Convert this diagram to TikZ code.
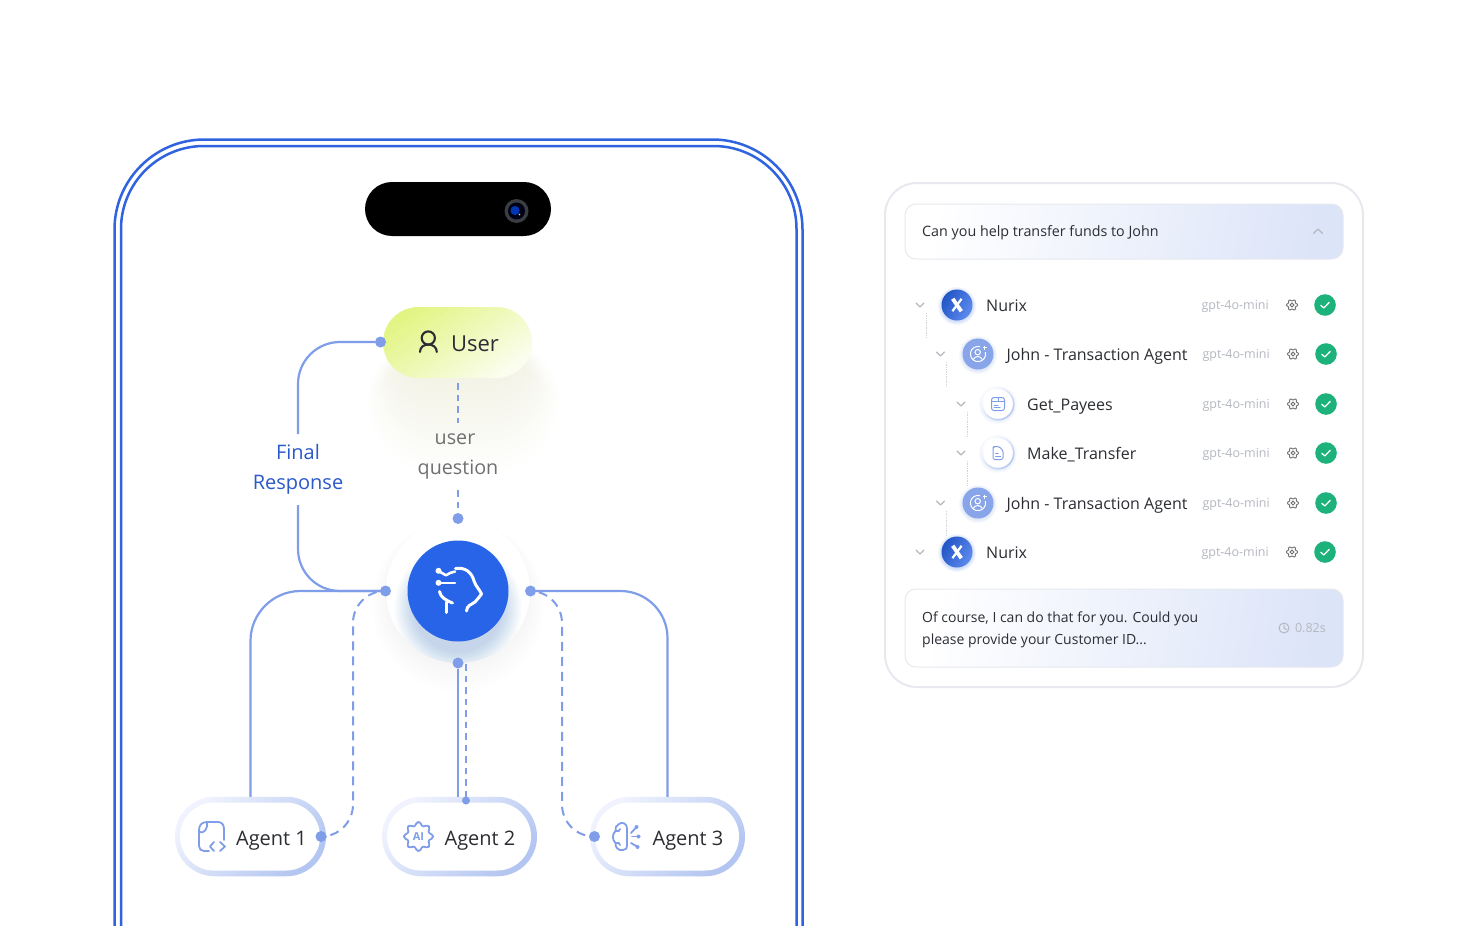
\documentclass[tikz,border=0pt]{standalone}
\usepackage{fontspec}
\setmainfont{Open Sans}
\usetikzlibrary{arrows.meta, calc}

\definecolor{framecol}{HTML}{2F63E0}
\definecolor{linecol}{HTML}{7F9DE8}
\definecolor{corecol}{HTML}{2864E8}
\definecolor{inkcol}{HTML}{2B2D33}
\definecolor{mutedcol}{HTML}{6F7073}
\definecolor{ringlight}{HTML}{F0F3FD}
\definecolor{ringdark}{HTML}{B3C5F1}
\definecolor{barcol}{HTML}{DCE4F8}
\definecolor{cardcol}{HTML}{E7E9EF}
\definecolor{softcol}{HTML}{B4B8C0}
\definecolor{okcol}{HTML}{1DB27B}
\definecolor{limecol}{HTML}{E2F584}
\definecolor{limepale}{HTML}{FBFDEF}
\definecolor{limeshade}{HTML}{D3E08A}
\definecolor{haloshade}{HTML}{AEB8D8}

\begin{document}
\begin{tikzpicture}[
    x=1pt, y=-1pt,
    frameline/.style={framecol, line width=2.5pt},
    link/.style={linecol, line width=2.2pt},
    dashlink/.style={linecol, line width=2pt, dash pattern=on 6.5pt off 5pt},
    dashlong/.style={linecol, line width=2pt, dash pattern=on 9pt off 6pt},
    dot/.style={circle, fill=linecol, minimum size=11pt, inner sep=0pt, outer sep=0pt},
    pillout/.style={rounded corners=39.5pt, minimum height=79.5pt, inner sep=0pt, outer sep=0pt,
        left color=ringlight, right color=ringdark, shading angle=45},
    pillin/.style={fill=white, rounded corners=34pt, minimum height=68pt, inner sep=0pt},
    agentlbl/.style={font=\fontsize{20}{24}\selectfont, text=inkcol, inner sep=0pt, anchor=base},
    edgelbl/.style={font=\fontsize{19.7}{30}\selectfont, align=center, inner sep=0pt, outer sep=0pt},
    iconline/.style={linecol, line width=1.8pt, line cap=round, line join=round},
    rowlbl/.style={font=\fontsize{16}{18}\selectfont, text=inkcol, inner sep=0pt, anchor=base west},
    modellbl/.style={font=\fontsize{12.5}{14}\selectfont, text=softcol, inner sep=0pt, anchor=base east},
    chatlbl/.style={font=\fontsize{14.3}{22}\selectfont, text=inkcol, inner sep=0pt, anchor=west, align=left},
    chev/.style={softcol, line width=1.1pt, line cap=round, line join=round},
    bar/.style={draw=cardcol, line width=1pt, rounded corners=11pt, inner sep=0pt,
        left color=white, right color=barcol, shading angle=80},
    cog/.pic={
        \draw[mutedcol, line width=.9pt] plot[smooth cycle, domain=0:350, samples=36, variable=\t]
            ({(4.8+.8*cos(6*\t))*cos(\t)}, {(4.8+.8*cos(6*\t))*sin(\t)});
        \draw[mutedcol, line width=.9pt] (0,0) circle (1.9pt);
    },
    okmark/.pic={
        \fill[okcol] (0,0) circle (10.8pt);
        \draw[white, line width=1.3pt, line cap=round, line join=round] (-4.2,.3) -- (-1.2,3) -- (4.2,-2.6);
    },
    logomark/.pic={
        \foreach \g in {0,1,...,4} { \fill[corecol, opacity=.05] (0,1) circle ({15+\g}); }
        \shade[left color=corecol!85!black, right color=corecol!75!white, shading angle=60] (0,0) circle (15.5pt);
        \draw[white, line width=3.8pt] (-4.3,-6.2) -- (4.3,6.2);
        \draw[white, line width=2.2pt] (4.6,-6.2) -- (-4.6,6.2);
    },
    personmark/.pic={
        \foreach \g in {0,1,...,4} { \fill[linecol, opacity=.06] (0,1) circle ({15+\g}); }
        \fill[linecol!92!white] (0,0) circle (15.5pt);
        \draw[white, line width=1pt] (0,0) ++(75:7.6pt) arc[start angle=75, end angle=375, radius=7.6pt];
        \draw[white, line width=1pt] (-.3,-1.8) circle (2.7pt);
        \draw[white, line width=1pt] (-4.6,5.4) .. controls (-3.5,1.6) and (3,1.6) .. (4.2,5.4);
        \draw[white, line width=.9pt] (6.5,-8.5) -- (6.5,-4.5) (4.5,-6.5) -- (8.5,-6.5);
    },
    toolmark/.pic={
        \foreach \g in {0,1,...,4} { \fill[ringdark, opacity=.07] (0,1) circle ({15+\g}); }
        \shade[left color=white, right color=ringdark, shading angle=45] (0,0) circle (16.5pt);
        \fill[white] (0,0) circle (14.8pt);
    },
]
\useasboundingbox (0,0) rectangle (1476,926);
\fill[white] (0,0) rectangle (1476,926);

% =============================================================================
% Phone outline
% =============================================================================
\draw[frameline, rounded corners=90pt] (114.5,926) -- (114.5,139.5) -- (802.5,139.5) -- (802.5,926);
\draw[frameline, rounded corners=83pt] (121,926) -- (121,146) -- (796.5,146) -- (796.5,926);

% --- Camera cutout ---
\node[fill=black, rounded corners=27pt, minimum width=186pt, minimum height=54pt, inner sep=0pt] (notch) at (458,209) {};
\fill[black!85!cyan] (516.5,211) circle (12pt);
\fill[black!92!blue] (516.5,211) circle (8.5pt);
\fill[blue!70!cyan!70!black] (515,210.5) circle (4.6pt);
\fill[white!70!gray] (519.5,214.5) circle (.9pt);

% =============================================================================
% User block and core
% =============================================================================

% --- Soft shadows ---
\foreach \g in {0,4,...,44} {
    \fill[limeshade, opacity=.012, rounded corners={36+.9*\g}]
        ({398-.7*\g}, {345-.3*\g}) rectangle ({524+.8*\g}, {385+2*\g});
}
\foreach \g in {0,2,...,16} {
    \fill[haloshade, opacity=.012] (458,{596+.6*\g}) circle ({70+\g});
}

% --- User ---
\node[rounded corners=35.5pt, minimum width=149pt, minimum height=71pt, inner sep=0pt, outer sep=0pt,
    left color=limecol, right color=limepale, shading angle=35] (user) at (457.5,342.5) {};
\node[agentlbl, font=\fontsize{22}{26}\selectfont] (userlbl) at (475,351) {User};
\draw[inkcol, line width=2.1pt] (428.3,338) circle (6.6pt);
\draw[inkcol, line width=2.1pt, line cap=round] (420,352) .. controls (420,347) and (424,344.5) .. (428.3,344.5)
    .. controls (432.6,344.5) and (436.8,347) .. (436.8,352);

% --- Core ---
\begin{scope}
    \fill[white] (458,591) circle (72pt);
    \clip (458,591) circle (72pt);
    \foreach \g in {0,1,...,20} {
        \fill[corecol, opacity=.012] (458,608) circle ({44+\g});
    }
\end{scope}
\node[circle, fill=corecol, minimum size=101pt, inner sep=0pt, outer sep=0pt] (core) at (458,591) {};
\draw[white, line width=3pt, line cap=round, line join=round]
    (455.5,568.5) .. controls (466,567) and (472,573) .. (474,581) .. controls (475.5,586) and (480,590) .. (481.5,594)
    .. controls (480,597) and (477,599) .. (475,602) .. controls (471,605) and (467,605) .. (466.5,611);
\draw[white, line width=3pt, line cap=round, line join=round]
    (439.5,591.5) .. controls (440,597) and (447,601) .. (452.5,603);
\draw[white, line width=3pt, line cap=round] (446.7,602) -- (446.7,612.5);
\draw[white, line width=2.6pt, line cap=round, line join=round] (438.5,571) -- (446,575.3) -- (450,573) -- (455,571.5);
\draw[white, line width=2.6pt, line cap=round] (438.5,582.8) -- (455,582.8);
\fill[white] (438.5,570.8) circle (3pt) (438.5,582.8) circle (3pt);

% =============================================================================
% Agents
% =============================================================================
\node[pillout, minimum width=151pt] (agentone) at (250.5,836.5) {};
\node[pillin, minimum width=140pt] (agentoneinner) at (250,836.5) {};
\node[agentlbl] (agentonelbl) at (271.5,845) {Agent 1};

\node[pillout, minimum width=155pt] (agenttwo) at (459.5,836.5) {};
\node[pillin, minimum width=144pt] (agenttwoinner) at (459,836.5) {};
\node[agentlbl] (agenttwolbl) at (480,845) {Agent 2};

\node[pillout, minimum width=155pt] (agentthree) at (667.5,836.5) {};
\node[pillin, minimum width=144pt] (agentthreeinner) at (667,836.5) {};
\node[agentlbl] (agentthreelbl) at (688,845) {Agent 3};

% --- Agent 1 icon ---
\draw[iconline] (209,851) -- (204,851) .. controls (201,851) and (199,849) .. (199,846) -- (199,830)
    .. controls (199,825) and (202,822) .. (207,822) -- (218,822) .. controls (222,822) and (224,825) .. (224,829) -- (224,840);
\draw[iconline] (199,832) .. controls (204,834) and (208,829) .. (207,822);
\draw[iconline] (214,842) -- (210,846.5) -- (214,851);
\draw[iconline] (220,842) -- (225,846.5) -- (220,851);

% --- Agent 2 icon ---
\draw[iconline] plot[smooth cycle, domain=0:351, samples=40, variable=\t]
    ({418.5+(12.8+1.8*cos(8*\t))*cos(\t)}, {836.5+(12.8+1.8*cos(8*\t))*sin(\t)});
\node[font=\fontsize{11}{12}\selectfont\bfseries, text=linecol, inner sep=0pt] (agenttwomark) at (418.5,836.5) {AI};

% --- Agent 3 icon ---
\draw[iconline] (627,828) .. controls (627,824) and (622,821) .. (619,824) .. controls (616,825) and (615,828) .. (615.5,831)
    .. controls (612,834) and (612,840) .. (615.5,843) .. controls (615,848) and (619,851) .. (623,850)
    .. controls (626,850) and (627,848) .. (627,846) -- cycle;
\draw[iconline] (615.5,831) .. controls (618,832) and (620,831) .. (620,829);
\draw[iconline] (615.5,843) .. controls (618,842) and (620,843) .. (620,845);
\draw[iconline] (631,833) -- (636,827.5);
\draw[iconline] (632,836.5) -- (638,836.5);
\draw[iconline] (631,843) -- (637,846.5);
\fill[linecol] (636.5,827) circle (2pt) (638.5,836.5) circle (2pt) (637.5,847) circle (2pt);

% =============================================================================
% Connectors
% =============================================================================
\node[dot] (userdot) at (380.5,342) {};
\node[dot] (coretop) at (458,518.5) {};
\node[dot] (coreleft) at (385.5,591) {};
\node[dot] (coreright) at (530.5,591) {};
\node[dot] (corebottom) at (458,663) {};
\node[dot] (agentonedot) at (321,836.5) {};
\node[dot, minimum size=8pt] (agenttwodot) at (466,800.5) {};
\node[dot] (agentthreedot) at (594.5,836.5) {};
\coordinate (coredash) at (466,664);

\node[edgelbl, text=framecol!90!black, minimum height=77pt, font=\fontsize{20}{30}\selectfont] (finallbl) at (298,469.5) {Final\\Response};
\node[edgelbl, text=mutedcol, minimum height=76pt] (questionlbl) at (458,456.5) {user\hspace*{6pt}\\question};

\draw[link, rounded corners=42pt, shorten >=-3pt] (userdot) -| (finallbl.north);
\draw[link, rounded corners=42pt, shorten <=-3pt] (finallbl.south) |- (coreleft);
\draw[link, rounded corners=50pt] (agentone.north) |- (coreleft);
\draw[link, rounded corners=47pt] (agentthree.north) |- (coreright);
\draw[link] (corebottom) -- (corebottom |- agenttwo.north);

\coordinate (userfoot) at (458,383);
\draw[dashlink, shorten >=-4.5pt] (userfoot) -- (questionlbl.north);
\draw[dashlink, shorten <=-4.5pt] (questionlbl.south) -- (coretop);
\draw[dashlink] (coredash) -- (agenttwodot);
\draw[dashlong, rounded corners=32pt] (agentonedot) -| (353,591) -- (coreleft);
\draw[dashlong, rounded corners=32pt] (coreright) -| (562,836.5) -- (agentthreedot);

% =============================================================================
% Trace card
% =============================================================================
\draw[cardcol, line width=2pt, fill=white, rounded corners=32pt] (885,183) rectangle (1363,687);

% --- Question bar ---
\node[bar, minimum width=438pt, minimum height=55pt] (askbar) at (1124,231.5) {};
\node[chatlbl, anchor=base west] (asklbl) at (922,236) {Can you help transfer funds to John};
\draw[chev] (1313.5,233.5) -- (1318,229) -- (1322.5,233.5);

% --- Tree rows ---
\foreach \i/\y/\lev/\dx/\title in {1/305/0/0/Nurix, 2/354/1/1/John - Transaction Agent, 3/404/2/1/Get\_Payees,
        4/453/2/1/Make\_Transfer, 5/503/1/1/John - Transaction Agent, 6/552/0/0/Nurix} {
    \begin{scope}[shift={(0,\y)}]
        \begin{scope}[shift={({20.5*\lev},0)}]
            \draw[chev] (916,-2) -- (920,2) -- (924,-2);
            \node[rowlbl] (rowlbl\i) at (986,6) {\title};
        \end{scope}
        \node[modellbl] (model\i) at ({1269+\dx},4.3) {gpt-4o-mini};
        \pic at ({1292+\dx},0) {cog};
        \pic at ({1325+\dx},0) {okmark};
    \end{scope}
}

% --- Tree guides ---
\foreach \gx/\gy in {926/313, 946.5/362, 967/412, 967/461, 946.5/511} {
    \draw[softcol!60, line width=.7pt, densely dotted] (\gx,\gy) -- (\gx,{\gy+25});
}

% --- Row icons ---
\pic at (957,305) {logomark};
\pic at (978,354) {personmark};
\pic at (998,404) {toolmark};
\pic at (998,453) {toolmark};
\pic at (978,503) {personmark};
\pic at (957,552) {logomark};

\draw[linecol, line width=1pt, rounded corners=2.5pt] (991.5,397.5) rectangle (1004.5,410.5);
\draw[linecol, line width=1pt] (991.5,401.5) -- (1004.5,401.5) (998,397.5) -- (998,401.5);
\draw[linecol, line width=1pt, line cap=round] (994,405) -- (998,405) (994,407.5) -- (1000,407.5);
\draw[linecol, line width=1pt, line join=round, rounded corners=1.5pt]
    (999,446.5) -- (994,446.5) -- (993,447.5) -- (993,459.5) -- (1003,459.5) -- (1003,450.5) -- cycle;
\draw[linecol, line width=1pt, line cap=round] (995.5,453) -- (998,453) (995.5,456) -- (1000.5,456);

% --- Answer bar ---
\node[bar, minimum width=438pt, minimum height=78pt] (replybar) at (1124,628) {};
\node[chatlbl, font=\fontsize{14}{22}\selectfont] (replylbl) at (922,630) {Of course, I can do that for you. Could you\\please provide your Customer ID...};
\draw[softcol, line width=1pt] (1284,628) circle (5pt);
\draw[softcol, line width=1pt, line cap=round, line join=round] (1284,625) -- (1284,628.3) -- (1286.5,629.5);
\node[modellbl] (timelbl) at (1326,632.5) {0.82s};

\end{tikzpicture}
\end{document}
